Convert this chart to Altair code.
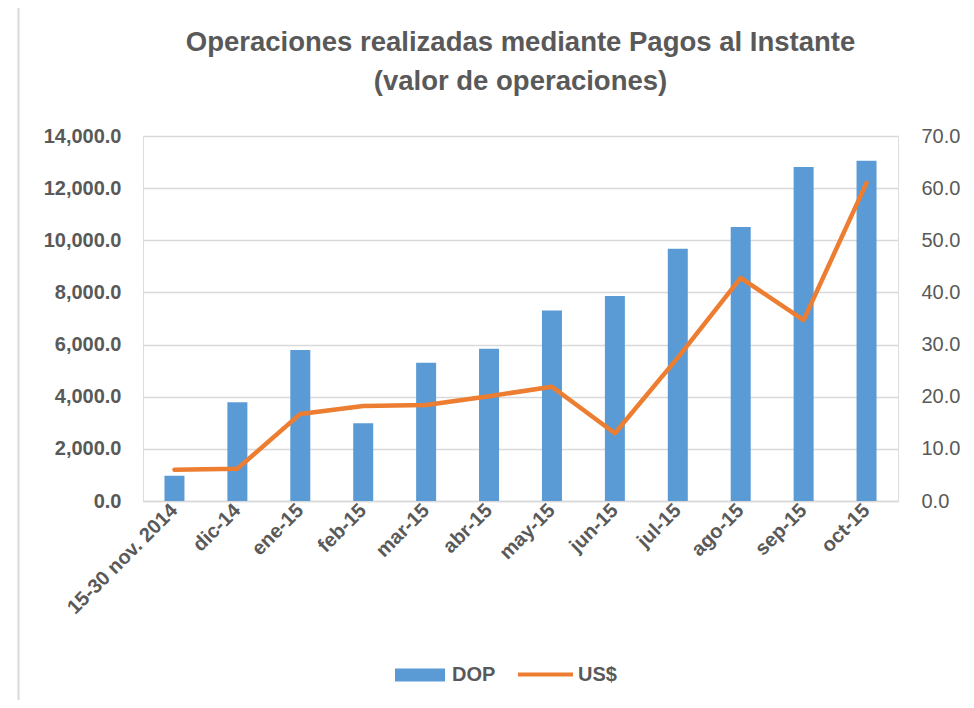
import altair as alt
import pandas as pd

categories = ["15-30 nov. 2014", "dic-14", "ene-15", "feb-15", "mar-15", "abr-15",
              "may-15", "jun-15", "jul-15", "ago-15", "sep-15", "oct-15"]
dop_values = [970, 3790, 5790, 2980, 5300, 5840, 7310, 7860, 9680, 10510, 12810, 13050]
usd_values = [6.0, 6.2, 16.7, 18.2, 18.4, 20.1, 21.9, 13.0, 27.5, 42.8, 34.7, 61.0]

df = pd.DataFrame({"cat": categories, "DOP": dop_values, "USD": usd_values,
                   "s1": "DOP", "s2": "US$"})

FONT = "Liberation Sans, sans-serif"
GREY = "#595959"
GRID = "#D9D9D9"
BLUE = "#5B9BD5"
ORANGE = "#ED7D31"

x_enc = alt.X(
    "cat:N", sort=categories, title=None,
    scale=alt.Scale(paddingInner=0, paddingOuter=0),
    axis=alt.Axis(labelAngle=-45, labelAlign="right", labelBaseline="middle",
                  labelFontSize=20, labelFontWeight="bold", labelColor=GREY,
                  labelFont=FONT, labelPadding=6, ticks=False,
                  domainColor=GRID, domainWidth=1.5, grid=False),
)

bars = alt.Chart(df).mark_bar(size=20).encode(
    x=x_enc,
    y=alt.Y("DOP:Q", title=None, scale=alt.Scale(domain=[0, 14000]),
            axis=alt.Axis(values=list(range(0, 14001, 2000)), format=",.1f",
                          labelFontSize=20, labelFontWeight="bold", labelColor=GREY,
                          labelFont=FONT, labelPadding=22, ticks=False, domain=False,
                          grid=True, gridColor=GRID, gridWidth=1.5)),
    fill=alt.Fill("s1:N", scale=alt.Scale(domain=["DOP"], range=[BLUE]),
                  legend=alt.Legend(title=None, orient="none", legendX=252, legendY=514,
                                    symbolType="M-1,-0.26H1V0.26H-1Z", symbolSize=2500,
                                    symbolStrokeWidth=0, labelFontSize=20,
                                    labelFontWeight="bold", labelColor=GREY, labelFont=FONT,
                                    labelOffset=7, padding=0)),
)

line = alt.Chart(df).mark_line(strokeWidth=4.5, strokeJoin="round", strokeCap="round").encode(
    x=x_enc,
    y=alt.Y("USD:Q", title=None, scale=alt.Scale(domain=[0, 70]),
            axis=alt.Axis(orient="right", values=list(range(0, 71, 10)), format=".1f",
                          labelFontSize=20, labelColor=GREY, labelFont=FONT,
                          labelPadding=23, ticks=False, domain=False, grid=False)),
    stroke=alt.Stroke("s2:N", scale=alt.Scale(domain=["US$"], range=[ORANGE]),
                      legend=alt.Legend(title=None, orient="none", legendX=373, legendY=509,
                                        symbolType="stroke", symbolSize=3025,
                                        symbolStrokeWidth=4, labelFontSize=20,
                                        labelFontWeight="bold", labelColor=GREY,
                                        labelFont=FONT, labelOffset=3, padding=0)),
)

frame_df = pd.DataFrame({"k": [0]})
frame_left = alt.Chart(frame_df).mark_rule(color=GRID, strokeWidth=2).encode(
    x=alt.value(-124.5), y=alt.value(-131), y2=alt.value(580))
frame_top = alt.Chart(frame_df).mark_rule(color=GRID, strokeWidth=2).encode(
    x=alt.value(-125.5), x2=alt.value(850), y=alt.value(-131))

chart = alt.layer(bars, line, frame_left, frame_top).resolve_scale(
    y="independent", fill="independent", stroke="independent"
).properties(
    width=755, height=365,
    title=alt.Title(["Operaciones realizadas mediante Pagos al Instante", "(valor de operaciones)"],
                    fontSize=27.5, fontWeight="bold", color=GREY, font=FONT,
                    anchor="middle", frame="group", offset=-91, lineHeight=39),
    autosize=alt.AutoSizeParams(type="none"),
    padding={"left": 135, "top": 128, "right": 68, "bottom": 199},
).configure_view(stroke=None).configure(background="white")

chart.save("out.html", embed_options={"renderer": "svg", "actions": False})
